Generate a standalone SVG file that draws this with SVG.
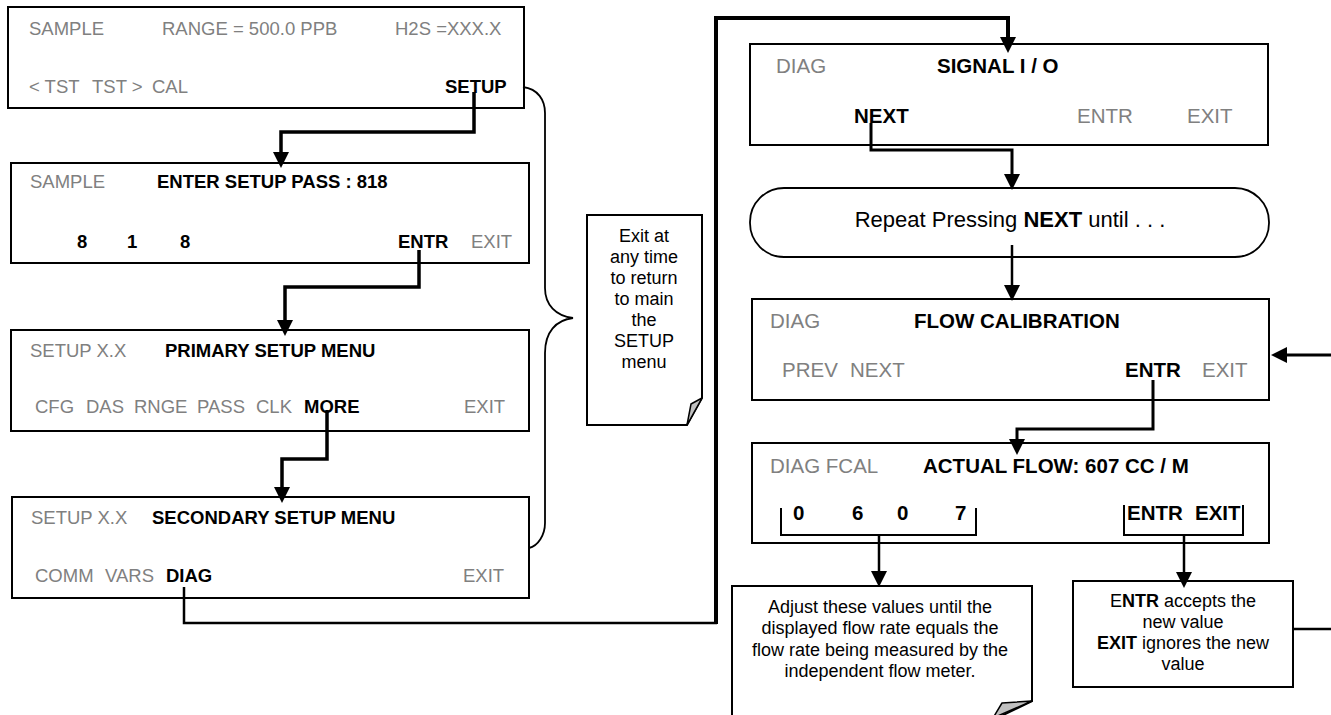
<svg xmlns="http://www.w3.org/2000/svg" width="1331" height="715" viewBox="0 0 1331 715">
<style>
text{font-family:"Liberation Sans",Arial,sans-serif;fill:#000}
.L{font-size:18.5px}
.R{font-size:20.5px}
.g{fill:#808080}
.b{font-weight:bold}
.box{fill:#fff;stroke:#000;stroke-width:2}
.note{fill:#fff;stroke:#000;stroke-width:2}
.fold{fill:#c0c0c0;stroke:#000;stroke-width:1.5;stroke-linejoin:round}
.c{fill:none;stroke:#000;stroke-linejoin:miter}
.n{font-size:18px;text-anchor:middle}
</style>
<defs>
<marker id="arr" viewBox="0 0 16 16" markerWidth="16" markerHeight="16" refX="8" refY="8" orient="auto" markerUnits="userSpaceOnUse">
<path d="M0,0 L16,8 L0,16 Z" fill="#000"/>
</marker>
</defs>

<g id="box1">
<rect class="box" x="8" y="7" width="516" height="101"/>
<text class="L g" x="29" y="35">SAMPLE</text>
<text class="L g" x="162" y="35">RANGE = 500.0 PPB</text>
<text class="L g" x="395" y="35">H2S =XXX.X</text>
<text class="L g" x="29" y="93">&lt; TST</text>
<text class="L g" x="92" y="93">TST &gt;</text>
<text class="L g" x="152" y="93">CAL</text>
<text class="L b" x="445" y="93">SETUP</text>
</g>

<g id="box2">
<rect class="box" x="11" y="163" width="518" height="100"/>
<text class="L g" x="30" y="188">SAMPLE</text>
<text class="L b" x="157" y="188">ENTER SETUP PASS : 818</text>
<text class="L b" x="77" y="248">8</text>
<text class="L b" x="127" y="248">1</text>
<text class="L b" x="180" y="248">8</text>
<text class="L b" x="398" y="248">ENTR</text>
<text class="L g" x="471" y="248">EXIT</text>
</g>

<g id="box3">
<rect class="box" x="11" y="330" width="518" height="101"/>
<text class="L g" x="30" y="357">SETUP X.X</text>
<text class="L b" x="165" y="357">PRIMARY SETUP MENU</text>
<text class="L g" x="35" y="413">CFG</text>
<text class="L g" x="86" y="413">DAS</text>
<text class="L g" x="134" y="413">RNGE</text>
<text class="L g" x="197" y="413">PASS</text>
<text class="L g" x="256" y="413">CLK</text>
<text class="L b" x="304" y="413">MORE</text>
<text class="L g" x="464" y="413">EXIT</text>
</g>

<g id="box4">
<rect class="box" x="12" y="497" width="517" height="101"/>
<text class="L g" x="31" y="524">SETUP X.X</text>
<text class="L b" x="152" y="524">SECONDARY SETUP MENU</text>
<text class="L g" x="35" y="582">COMM</text>
<text class="L g" x="105" y="582">VARS</text>
<text class="L b" x="166" y="582">DIAG</text>
<text class="L g" x="463" y="582">EXIT</text>
</g>

<g id="note-exit">
<path class="note" d="M587,215 H702 V398 L687,425 H587 Z"/>
<path class="fold" d="M702,398 L687,425 L691,404 Z"/>
<text class="n" x="644" y="242">Exit at</text>
<text class="n" x="644" y="263">any time</text>
<text class="n" x="644" y="284">to return</text>
<text class="n" x="644" y="305">to main</text>
<text class="n" x="644" y="326">the</text>
<text class="n" x="644" y="347">SETUP</text>
<text class="n" x="644" y="368">menu</text>
</g>

<g id="box-signal">
<rect class="box" x="750" y="44" width="518" height="101"/>
<text class="R g" x="776" y="73">DIAG</text>
<text class="R b" x="937" y="73">SIGNAL I / O</text>
<text class="R b" x="854" y="123">NEXT</text>
<text class="R g" x="1077" y="123">ENTR</text>
<text class="R g" x="1187" y="123">EXIT</text>
</g>

<g id="repeat">
<rect x="750" y="188" width="519" height="69" rx="34" ry="34" fill="#fff" stroke="#000" stroke-width="1.8"/>
<text x="1010" y="227" font-size="22" text-anchor="middle">Repeat Pressing <tspan font-weight="bold">NEXT</tspan> until . . .</text>
</g>

<g id="box-fcal">
<rect class="box" x="752" y="299" width="517" height="101"/>
<text class="R g" x="770" y="328">DIAG</text>
<text class="R b" x="914" y="328">FLOW CALIBRATION</text>
<text class="R g" x="782" y="377">PREV</text>
<text class="R g" x="850" y="377">NEXT</text>
<text class="R b" x="1125" y="377">ENTR</text>
<text class="R g" x="1202" y="377">EXIT</text>
</g>

<g id="box-actual">
<rect class="box" x="752" y="443" width="517" height="100"/>
<text class="R g" x="770" y="473">DIAG FCAL</text>
<text class="R b" x="923" y="473">ACTUAL FLOW: 607 CC / M</text>
<text class="R b" x="793" y="520">0</text>
<text class="R b" x="852" y="520">6</text>
<text class="R b" x="897" y="520">0</text>
<text class="R b" x="955" y="520">7</text>
<text class="R b" x="1127" y="520">ENTR</text>
<text class="R b" x="1195" y="520">EXIT</text>
</g>

<g id="note-adjust">
<path class="note" d="M732,586 H1032 V701 L993,720 H732 Z"/>
<path class="fold" d="M1032,701 L993,718 L1002,703 Z"/>
<text class="n" x="880" y="613" font-size="18.5">Adjust these values until the</text>
<text class="n" x="880" y="634" font-size="18.5">displayed flow rate equals the</text>
<text class="n" x="880" y="656" font-size="18.5">flow rate being measured by the</text>
<text class="n" x="880" y="677" font-size="18.5">independent flow meter.</text>
</g>

<g id="note-entr">
<rect class="box" x="1073" y="581" width="220" height="106"/>
<text class="n" x="1183" y="607">E<tspan font-weight="bold">NTR</tspan> accepts the</text>
<text class="n" x="1183" y="628">new value</text>
<text class="n" x="1183" y="649"><tspan font-weight="bold">EXIT</tspan> ignores the new</text>
<text class="n" x="1183" y="670">value</text>
</g>

<g id="connectors">
<path class="c" stroke-width="3.5" d="M474,92 V132 H281 V160" marker-end="url(#arr)"/>
<path class="c" stroke-width="3.5" d="M419,250 V287 H285 V328" marker-end="url(#arr)"/>
<path class="c" stroke-width="3.5" d="M327,410 V459 H282 V495" marker-end="url(#arr)"/>
<path class="c" stroke-width="2.5" d="M184,587 V623 H717"/>
<path class="c" stroke-width="4" d="M716,624 V18 H1008 V45" marker-end="url(#arr)"/>
<path class="c" stroke-width="3" d="M871,123 V150 H1012 V182" marker-end="url(#arr)"/>
<path class="c" stroke-width="2.5" d="M1012,245 V293" marker-end="url(#arr)"/>
<path class="c" stroke-width="3" d="M1153,380 V429 H1017 V447" marker-end="url(#arr)"/>
<path class="c" stroke-width="2" d="M781,508 V535 H976 V508"/>
<path class="c" stroke-width="2.5" d="M879,535 V579" marker-end="url(#arr)"/>
<path class="c" stroke-width="2" d="M1124,505 V535 H1243 V505"/>
<path class="c" stroke-width="2.5" d="M1184,535 V580" marker-end="url(#arr)"/>
<path class="c" stroke-width="3" d="M1331,355 H1279" marker-end="url(#arr)"/>
<path class="c" stroke-width="2.5" d="M1293,629 H1331"/>
<path class="c" stroke-width="1.8" d="M523,87 C538,89 545,100 545,113 V288 C545,305 556,316 573,318 C556,320 545,332 545,353 V523 C545,535 538,546 529,548"/>
</g>
</svg>
